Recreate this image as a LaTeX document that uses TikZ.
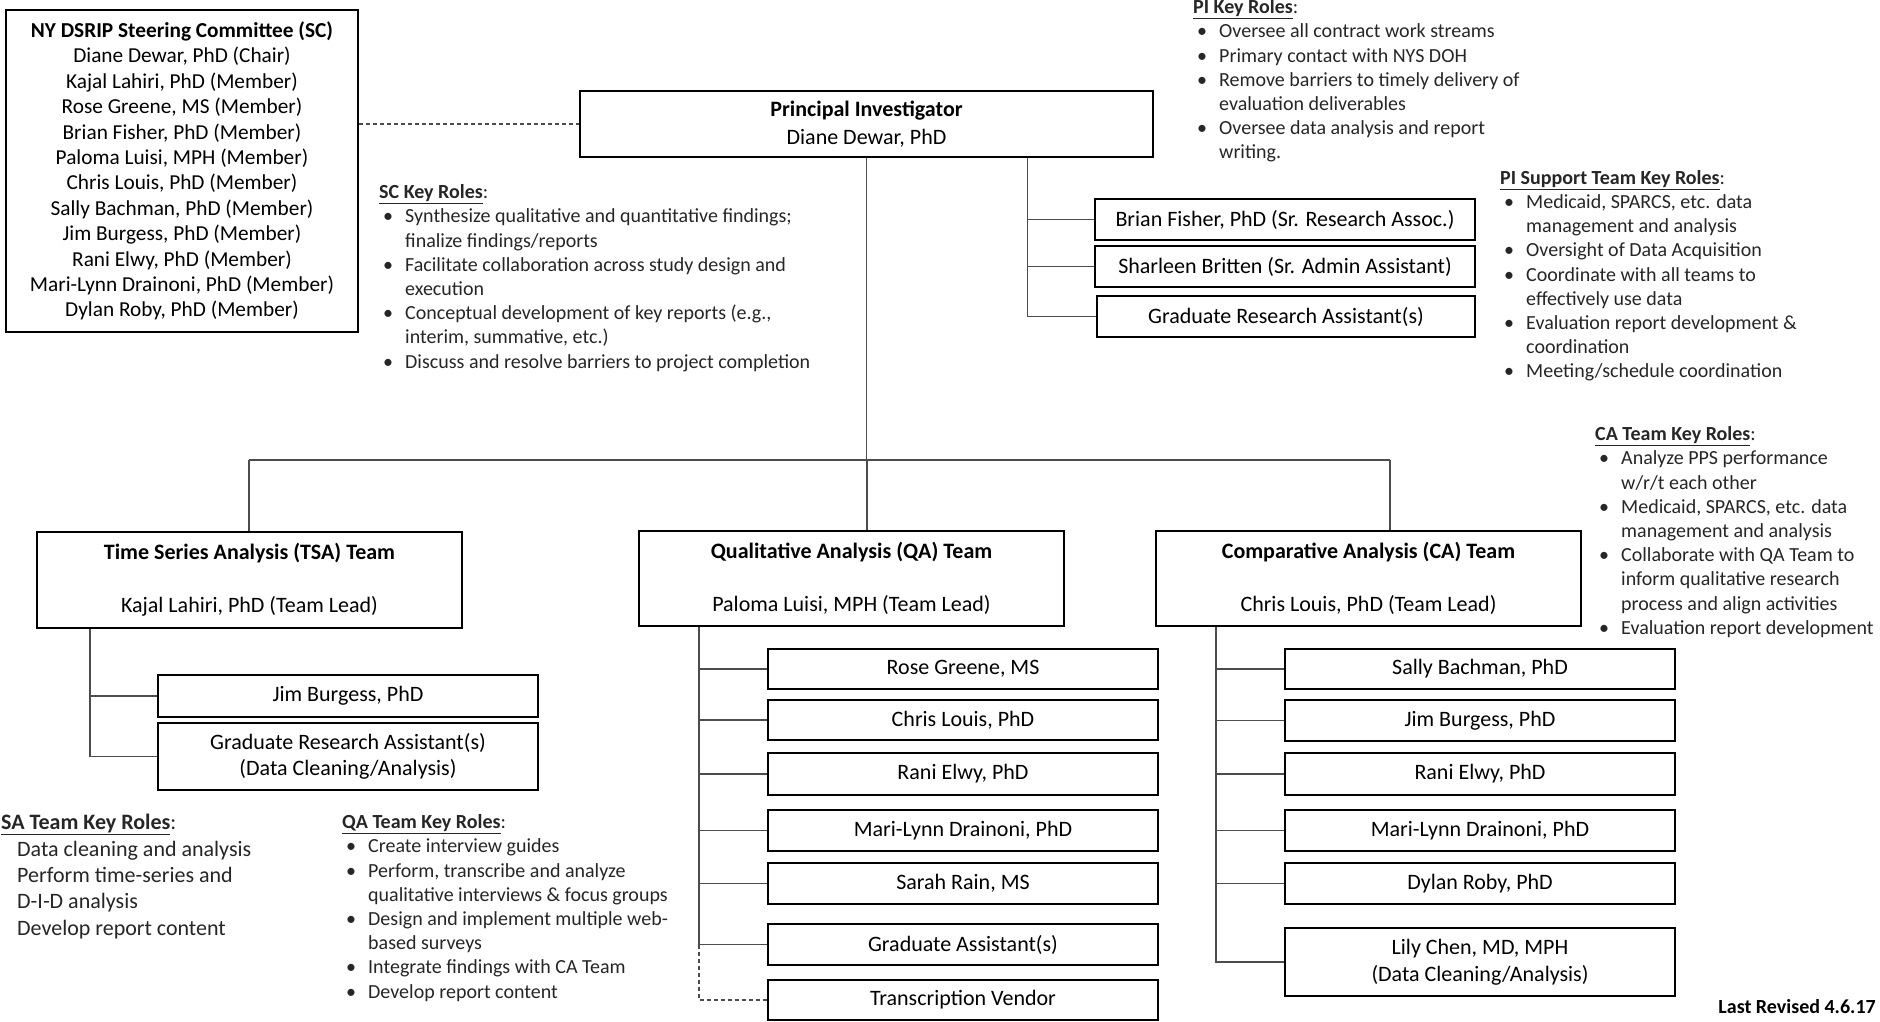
\documentclass[tikz,border=0pt]{standalone}
\usepackage{fontspec}
\setmainfont{Carlito}
\newcommand\myfs[2]{\fontsize{#1}{#2}\selectfont}
\newcommand\bl{\makebox[26pt][l]{\hspace{4pt}\textbullet}}
\newcommand\ct{\hspace*{26pt}}
\newcommand\hd[1]{\rule{0pt}{17pt}\underline{\textbf{#1}}:}
\begin{document}
\begin{tikzpicture}[x=1pt,y=-1pt,
  box/.style={draw=black, line width=1.8pt, inner sep=0pt, align=center, font=\myfs{22}{26.5}},
  roles/.style={anchor=north west, inner sep=0pt, align=left, text=black!85, font=\myfs{20}{24.2}},
  conn/.style={draw=black!70, line width=1.3pt},
  dconn/.style={conn, dash pattern=on 4pt off 3pt}]
\useasboundingbox (0,0) rectangle (1880,1021);
\fill[white] (0,0) rectangle (1880,1021);

% Steering committee
\node[box, minimum width=352, minimum height=322, font=\myfs{21.3}{25.4}] (sc) at (182,171)
 {\textbf{NY DSRIP Steering Committee (SC)}\\Diane Dewar, PhD (Chair)\\Kajal Lahiri, PhD (Member)\\Rose Greene, MS (Member)\\Brian Fisher, PhD (Member)\\Paloma Luisi, MPH (Member)\\Chris Louis, PhD (Member)\\Sally Bachman, PhD (Member)\\Jim Burgess, PhD (Member)\\Rani Elwy, PhD (Member)\\Mari-Lynn Drainoni, PhD (Member)\\Dylan Roby, PhD (Member)};

% PI
\node[box, minimum width=573, minimum height=66, font=\myfs{22}{28}] (pi) at (866.5,124)
 {\textbf{Principal Investigator}\\Diane Dewar, PhD};

% PI support
\node[box, minimum width=380, minimum height=41] (brian) at (1285,219.5) {Brian Fisher, PhD (Sr. Research Assoc.)};
\node[box, minimum width=380, minimum height=41] (sharleen) at (1285,266.5) {Sharleen Britten (Sr. Admin Assistant)};
\node[box, minimum width=378, minimum height=41] (pigra) at (1286,316.5) {Graduate Research Assistant(s)};

% Teams
\node[box, minimum width=425, minimum height=96, font=\myfs{22}{53}] (tsa) at (249.5,580)
 {\textbf{Time Series Analysis (TSA) Team}\\Kajal Lahiri, PhD (Team Lead)};
\node[box, minimum width=425, minimum height=95, font=\myfs{22}{53}] (qa) at (851.5,578.5)
 {\textbf{Qualitative Analysis (QA) Team}\\Paloma Luisi, MPH (Team Lead)};
\node[box, minimum width=425, minimum height=95, font=\myfs{22}{53}] (ca) at (1368.5,578.5)
 {\textbf{Comparative Analysis (CA) Team}\\Chris Louis, PhD (Team Lead)};

% TSA members
\node[box, minimum width=380, minimum height=42] (tjim) at (348,696) {Jim Burgess, PhD};
\node[box, minimum width=380, minimum height=67] (tgra) at (348,756.5) {Graduate Research Assistant(s)\\(Data Cleaning/Analysis)};

% QA members
\node[box, minimum width=390, minimum height=40] (qrose) at (963,669) {Rose Greene, MS};
\node[box, minimum width=390, minimum height=40] (qchris) at (963,720) {Chris Louis, PhD};
\node[box, minimum width=390, minimum height=42] (qrani) at (963,774) {Rani Elwy, PhD};
\node[box, minimum width=390, minimum height=41] (qmari) at (963,830.5) {Mari-Lynn Drainoni, PhD};
\node[box, minimum width=390, minimum height=41] (qsarah) at (963,883.5) {Sarah Rain, MS};
\node[box, minimum width=390, minimum height=41] (qga) at (963,944.5) {Graduate Assistant(s)};
\node[box, minimum width=390, minimum height=40] (qtv) at (963,1000) {Transcription Vendor};

% CA members
\node[box, minimum width=390, minimum height=40] (csally) at (1480,669) {Sally Bachman, PhD};
\node[box, minimum width=390, minimum height=41] (cjim) at (1480,720.5) {Jim Burgess, PhD};
\node[box, minimum width=390, minimum height=42] (crani) at (1480,774) {Rani Elwy, PhD};
\node[box, minimum width=390, minimum height=41] (cmari) at (1480,830.5) {Mari-Lynn Drainoni, PhD};
\node[box, minimum width=390, minimum height=41] (cdylan) at (1480,883.5) {Dylan Roby, PhD};
\node[box, minimum width=390, minimum height=68] (clily) at (1480,962) {Lily Chen, MD, MPH\\(Data Cleaning/Analysis)};

% Role lists
\node[roles] (scroles) at (379,181.4) {\hd{SC Key Roles}\\
\bl Synthesize qualitative and quantitative findings;\\
\ct finalize findings/reports\\
\bl Facilitate collaboration across study design and\\
\ct execution\\
\bl Conceptual development of key reports (e.g.,\\
\ct interim, summative, etc.)\\
\bl Discuss and resolve barriers to project completion};

\node[roles] (piroles) at (1193,-3.6) {\hd{PI Key Roles}\\
\bl Oversee all contract work streams\\
\bl Primary contact with NYS DOH\\
\bl Remove barriers to timely delivery of\\
\ct evaluation deliverables\\
\bl Oversee data analysis and report\\
\ct writing.};

\node[roles] (psroles) at (1500,167) {\hd{PI Support Team Key Roles}\\
\bl Medicaid, SPARCS, etc. data\\
\ct management and analysis\\
\bl Oversight of Data Acquisition\\
\bl Coordinate with all teams to\\
\ct effectively use data\\
\bl Evaluation report development \&\\
\ct coordination\\
\bl Meeting/schedule coordination};

\node[roles] (caroles) at (1595,423.4) {\hd{CA Team Key Roles}\\
\bl Analyze PPS performance\\
\ct w/r/t each other\\
\bl Medicaid, SPARCS, etc. data\\
\ct management and analysis\\
\bl Collaborate with QA Team to\\
\ct inform qualitative research\\
\ct process and align activities\\
\bl Evaluation report development};

\node[roles] (qaroles) at (342,811.4) {\hd{QA Team Key Roles}\\
\bl Create interview guides\\
\bl Perform, transcribe and analyze\\
\ct qualitative interviews \& focus groups\\
\bl Design and implement multiple web-\\
\ct based surveys\\
\bl Integrate findings with CA Team\\
\bl Develop report content};

\node[roles, font=\myfs{22}{26.4}] (saroles) at (1,811) {\rule{0pt}{18.5pt}\underline{\textbf{SA Team Key Roles}}:\\
\hspace*{16pt}Data cleaning and analysis\\
\hspace*{16pt}Perform time-series and\\
\hspace*{16pt}D-I-D analysis\\
\hspace*{16pt}Develop report content};

\node[anchor=mid east, inner sep=0pt, font=\bfseries\myfs{20}{24}] (rev) at (1876,1011) {Last Revised 4.6.17};

% Connectors
\coordinate (barL) at (249,460);
\coordinate (barM) at (867,460);
\coordinate (barR) at (1390,460);
\coordinate (psx) at (1027.5,0);
\coordinate (tsx) at (90,0);
\coordinate (qax) at (699,0);
\coordinate (cax) at (1216,0);

\draw[dconn] (sc.east |- pi.west) -- (pi.west);
\draw[conn] (pi.south) -- (pi.south |- barL);
\draw[conn] (barL) -- (barR);
\draw[conn] (barL) -- (barL |- tsa.north);
\draw[conn] (barM) -- (barM |- qa.north);
\draw[conn] (barR) -- (barR |- ca.north);

\draw[conn] (psx |- pi.south) -- (psx |- pigra.west) -- (pigra.west);
\draw[conn] (psx |- brian.west) -- (brian.west);
\draw[conn] (psx |- sharleen.west) -- (sharleen.west);

\draw[conn] (tsx |- tsa.south) -- (tsx |- tgra.west) -- (tgra.west);
\draw[conn] (tsx |- tjim.west) -- (tjim.west);

\draw[conn] (qax |- qa.south) -- (qax |- qga.west) -- (qga.west);
\foreach \n in {qrose,qchris,qrani,qmari,qsarah}
  \draw[conn] (qax |- \n.west) -- (\n.west);
\draw[dconn] (qax |- qga.west) -- (qax |- qtv.west) -- (qtv.west);

\draw[conn] (cax |- ca.south) -- (cax |- clily.west) -- (clily.west);
\foreach \n in {csally,cjim,crani,cmari,cdylan}
  \draw[conn] (cax |- \n.west) -- (\n.west);
\end{tikzpicture}
\end{document}
